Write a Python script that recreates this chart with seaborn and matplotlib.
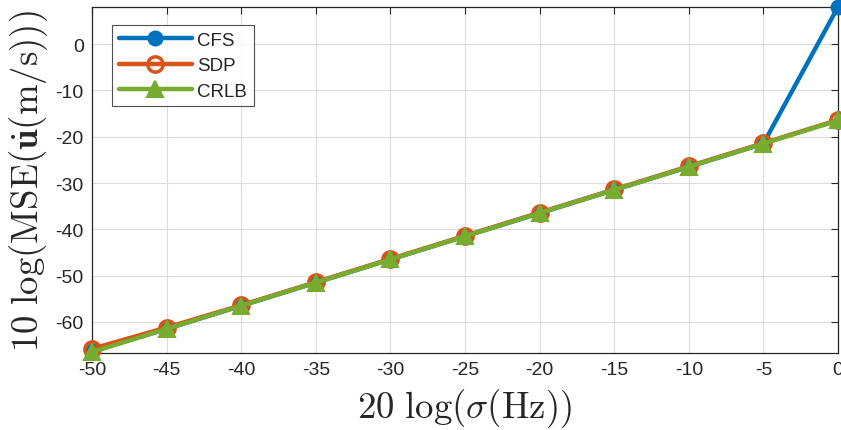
import numpy as np
import pandas as pd
import matplotlib
matplotlib.use("Agg")
import matplotlib.pyplot as plt
import seaborn as sns

x_vals = [-50, -45, -40, -35, -30, -25, -20, -15, -10, -5, 0]
cfs = [-66.3, -61.5, -56.5, -51.5, -46.5, -41.5, -36.5, -31.5, -26.5, -21.5, 8.0]
sdp = [-65.8, -61.2, -56.4, -51.4, -46.4, -41.4, -36.4, -31.4, -26.4, -21.4, -16.4]
crlb = [-66.5, -61.5, -56.5, -51.5, -46.5, -41.5, -36.5, -31.5, -26.5, -21.5, -16.5]
series_names = ["CFS", "SDP", "CRLB"]
colors = ["#0072BD", "#D95319", "#77AC30"]

sns.set_style("white")
plt.rcParams['font.family'] = ['Liberation Sans', 'DejaVu Sans']
plt.rcParams['mathtext.fontset'] = 'cm'
plt.rcParams['axes.unicode_minus'] = False

fig = plt.figure(figsize=(8.41, 4.31), dpi=100)
ax = fig.add_axes([92/841, 1-354/431, (838-92)/841, (354-8)/431])

df = pd.DataFrame({
    "x": x_vals * 3,
    "y": cfs + sdp + crlb,
    "s": ["CFS"] * 11 + ["SDP"] * 11 + ["CRLB"] * 11,
})

styles = {
    "CFS": dict(marker="o", mfc=colors[0], mec=colors[0], ms=10, mew=1.5),
    "SDP": dict(marker="o", mfc="none", mec=colors[1], ms=11, mew=2.5),
    "CRLB": dict(marker="^", mfc=colors[2], mec=colors[2], ms=12, mew=1.5),
}
for name, col in zip(series_names, colors):
    sub = df[df["s"] == name]
    st = styles[name]
    sns.lineplot(data=sub, x="x", y="y", ax=ax, color=col, lw=3.2,
                 marker=st["marker"], markersize=st["ms"],
                 markerfacecolor=st["mfc"], markeredgecolor=st["mec"],
                 markeredgewidth=st["mew"], label=name, zorder=3,
                 clip_on=False)

ax.set_xlim(-50, 0)
ax.set_ylim(-66.7, 8)
ax.set_xticks(np.arange(-50, 1, 5))
ax.set_yticks(np.arange(-60, 1, 10))
ax.grid(True, color="#dcdcdc", lw=0.8)
ax.tick_params(direction="in", top=True, right=True, labelsize=14,
               length=5, width=0.8, colors="#262626", pad=6)
for sp in ax.spines.values():
    sp.set_color("#262626")
    sp.set_linewidth(0.9)

ax.set_xlabel(r"$20\ \log(\sigma(\mathrm{Hz}))$", fontsize=26.5)
ax.set_ylabel(r"$10\ \log(\mathrm{MSE}(\dot{\mathbf{u}}(\mathrm{m/s})))$", fontsize=26.5)
ax.yaxis.set_label_coords(-0.056, 0.5)
ax.xaxis.set_label_coords(0.5, -0.096)

leg = ax.legend(loc="upper left", bbox_to_anchor=(20/746, 1-18/346), fontsize=13.5,
                frameon=True, fancybox=False, edgecolor="#262626",
                handlelength=3.9, borderpad=0.35, labelspacing=0.45,
                handletextpad=0.3, borderaxespad=0)
leg.get_frame().set_linewidth(0.8)

fig.savefig("out.png", dpi=100)
